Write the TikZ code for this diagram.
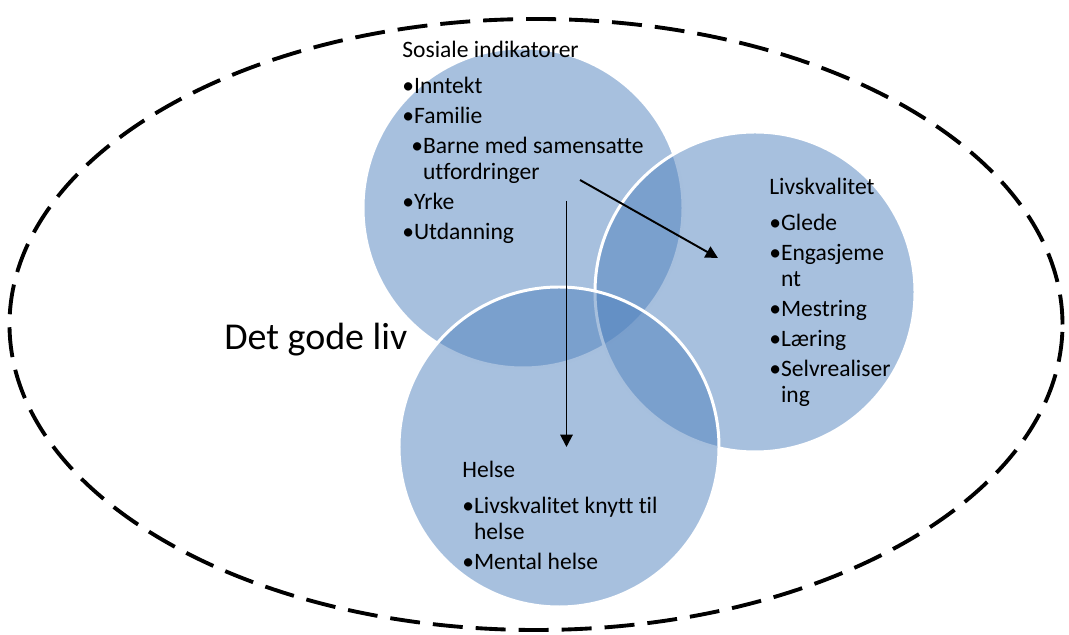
\documentclass[tikz,border=0pt]{standalone}
\usepackage{fontspec}
\setmainfont{Carlito}[Ligatures={NoCommon}]
\usetikzlibrary{arrows.meta}

\definecolor{sirkelblaa}{RGB}{79,129,189}

\tikzset{
  sirkel/.style={fill=sirkelblaa, fill opacity=0.5, draw=white, line width=1.7pt},
  blokk/.style={anchor=base west, align=left, inner sep=0pt, font=\fontsize{13.4}{14.8}\selectfont},
  pil/.style={-{Triangle[length=7pt,width=7pt]}, line width=1.1pt},
}

\begin{document}
\begin{tikzpicture}
    \useasboundingbox (0,0) rectangle (21.38,12.7);

    % Radius of the three circles
    \def\radius{3.2}

    % The dashed ellipse round everything
    \draw[line width=2.2pt, dash pattern=on 0.6cm off 0.26cm] (10.72,6.21) ellipse (10.53cm and 6.11cm);

    % The three circles, the last one on top
    \draw[sirkel] (10.46,8.54) circle (\radius);
    \draw[sirkel] (15.1,6.86) circle (\radius);
    \draw[sirkel] (11.18,3.76) circle (\radius);

    \node[anchor=base west, inner sep=0pt, font=\fontsize{21.6}{26}\selectfont] (livet) at (4.48,5.7) {Det gode liv};

    % Text in the circles (placed by the baseline of the last line)
    \node[blokk] (sosiale) at (8.04,7.9) {Sosiale indikatorer\\[5.7pt]
      •Inntekt\\[2.3pt]
      •Familie\\[2.3pt]
      \hspace{0.18cm}•Barne med samensatte\\
      \hspace{0.18cm}\phantom{•}utfordringer\\[2.3pt]
      •Yrke\\[2.3pt]
      •Utdanning};

    \node[blokk] (livskvalitet) at (15.38,4.64) {Livskvalitet\\[5.7pt]
      •Glede\\[2.3pt]
      •Engasjeme\\
      \phantom{•}nt\\[2.3pt]
      •Mestring\\[2.3pt]
      •Læring\\[2.3pt]
      •Selvrealiser\\
      \phantom{•}ing};

    \node[blokk] (helse) at (9.24,1.3) {Helse\\[5.7pt]
      •Livskvalitet knytt til\\
      \phantom{•}helse\\[2.3pt]
      •Mental helse};

    % The two arrows
    \coordinate (fraSosialeA) at (11.6,9.1);
    \coordinate (tilLivskvalitet) at (14.36,7.54);
    \coordinate (fraSosialeB) at (11.33,8.68);
    \coordinate (tilHelse) at (11.33,3.76);

    \draw[pil] (fraSosialeA) -- (tilLivskvalitet);
    \draw[pil] (fraSosialeB) -- (tilHelse);
\end{tikzpicture}
\end{document}
